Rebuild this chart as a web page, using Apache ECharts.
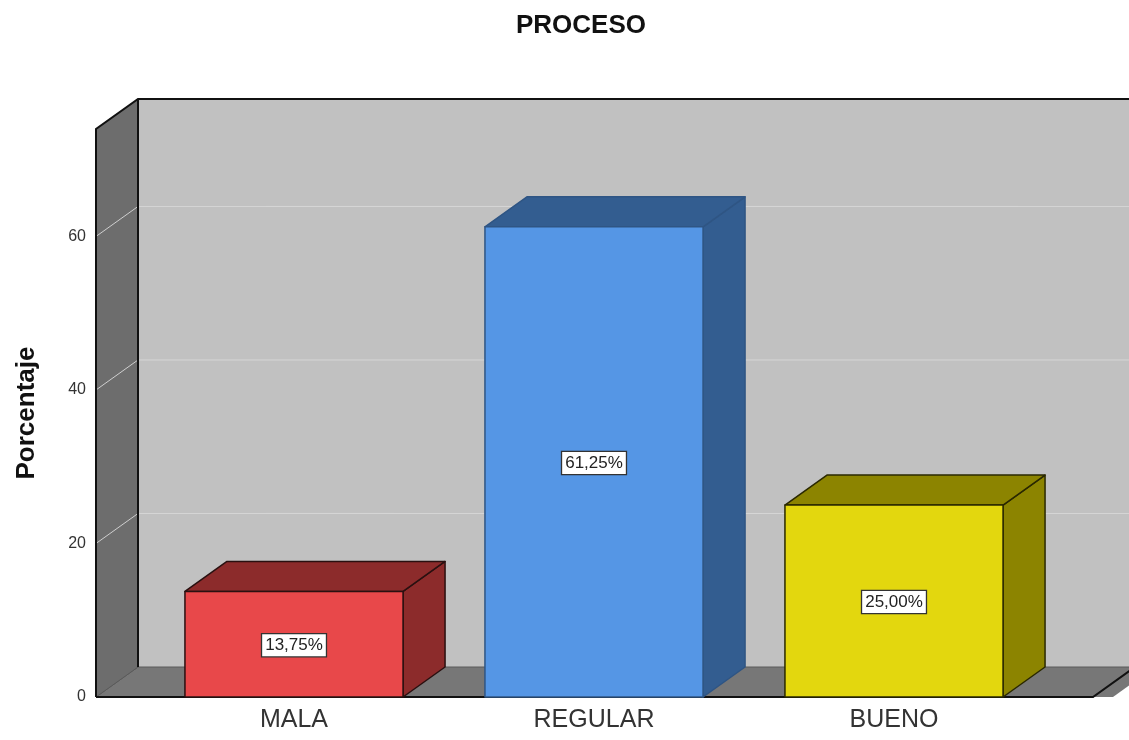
<!DOCTYPE html>
<html>
<head>
<meta charset="utf-8">
<script src="https://cdn.jsdelivr.net/npm/echarts@6/dist/echarts.min.js"></script>
<style>
html,body{margin:0;padding:0;background:#fff;}
#chart{width:1129px;height:740px;}
</style>
</head>
<body>
<div id="chart"></div>
<script>
const categories = ['MALA', 'REGULAR', 'BUENO'];
const values = [13.75, 61.25, 25.00];
const valueLabels = ['13,75%', '61,25%', '25,00%'];
const yTicks = [0, 20, 40, 60];
const frontColors = ['#e8484a', '#5596e5', '#e3d70e'];
const darkColors = ['#8c2b2b', '#335d90', '#8c8400'];
const edgeColors = ['#2a1010', '#2f5584', '#2a2800'];

const DX = 42, DY = -30;
const FONT = 'Arial, "Liberation Sans", sans-serif';

const chart = echarts.init(document.getElementById('chart'));

function renderWalls(params, api) {
  const cs = params.coordSys;
  const L = cs.x - 48;
  const R = cs.x + cs.width + 49;
  const y0 = api.coord([0, 0])[1];
  const yT = cs.y;
  const children = [];
  // back wall
  children.push({type: 'rect', shape: {x: L + DX, y: yT + DY, width: R - L + 20, height: y0 - yT},
    style: {fill: '#c1c1c1', stroke: null}});
  // floor
  children.push({type: 'polygon', shape: {points: [[L, y0], [L + DX, y0 + DY], [R + DX + 20, y0 + DY], [R + 20, y0]]},
    style: {fill: '#777777', stroke: null}});
  children.push({type: 'polygon', shape: {points: [[L, y0], [L + DX, y0 + DY], [R + DX, y0 + DY], [R, y0]]},
    style: {fill: '#777777', stroke: '#5a5a5a', lineWidth: 1}});
  // grid lines
  yTicks.forEach(function (v) {
    if (v === 0) return;
    const y = api.coord([0, v])[1];
    children.push({type: 'polyline', shape: {points: [[L, y], [L + DX, y + DY], [R + DX + 30, y + DY]]},
      style: {stroke: '#d6d6d6', lineWidth: 1, fill: null}});
  });
  // left wall
  children.push({type: 'polygon', shape: {points: [[L, yT], [L + DX, yT + DY], [L + DX, y0 + DY], [L, y0]]},
    style: {fill: '#6d6d6d', stroke: null}});
  yTicks.forEach(function (v) {
    if (v === 0) return;
    const y = api.coord([0, v])[1];
    children.push({type: 'line', shape: {x1: L, y1: y, x2: L + DX, y2: y + DY},
      style: {stroke: '#cfcfcf', lineWidth: 1}});
  });
  children.push({type: 'line', shape: {x1: L, y1: y0, x2: L + DX, y2: y0 + DY},
    style: {stroke: '#5a5a5a', lineWidth: 1}});
  // outlines
  children.push({type: 'polyline', shape: {points: [[L, y0], [L, yT], [L + DX, yT + DY], [R + DX + 40, yT + DY]]},
    style: {stroke: '#111', lineWidth: 2, fill: null}});
  children.push({type: 'line', shape: {x1: L + DX, y1: yT + DY, x2: L + DX, y2: y0 + DY},
    style: {stroke: '#111', lineWidth: 2}});
  children.push({type: 'polyline', shape: {points: [[L, y0], [R, y0], [R + DX, y0 + DY]]},
    style: {stroke: '#111', lineWidth: 2, fill: null}});
  return {type: 'group', children: children};
}

function renderBar(params, api) {
  const idx = api.value(0);
  const val = api.value(1);
  const top = api.coord([idx, val]);
  const bot = api.coord([idx, 0]);
  const w = api.size([1, 0])[0] * 0.727;
  const x0 = top[0] - w / 2, x1 = top[0] + w / 2;
  const yT = top[1], yB = bot[1];
  const i = params.dataIndex;
  const st = {stroke: edgeColors[i], lineWidth: 1.5, lineJoin: 'round'};
  return {type: 'group', children: [
    {type: 'polygon', shape: {points: [[x1, yT], [x1 + DX, yT + DY], [x1 + DX, yB + DY], [x1, yB]]},
      style: Object.assign({fill: darkColors[i]}, st)},
    {type: 'polygon', shape: {points: [[x0, yT], [x0 + DX, yT + DY], [x1 + DX, yT + DY], [x1, yT]]},
      style: Object.assign({fill: darkColors[i]}, st)},
    {type: 'rect', shape: {x: x0, y: yT, width: w, height: yB - yT},
      style: Object.assign({fill: frontColors[i]}, st)},
    {type: 'text', x: top[0], y: (yT + yB) / 2 + 1,
      style: {text: valueLabels[i], fill: '#222', font: '17px ' + FONT, align: 'center', verticalAlign: 'middle',
        backgroundColor: '#fff', borderColor: '#333', borderWidth: 1.3, padding: [3, 3, 2, 3]}}
  ]};
}

chart.setOption({
  animation: false,
  backgroundColor: '#fff',
  title: {text: 'PROCESO', left: 576, top: 8, textAlign: 'center',
    textStyle: {fontFamily: FONT, fontWeight: 'bold', fontSize: 26, color: '#111'}},
  grid: {left: 144, width: 900, top: 129, bottom: 43},
  xAxis: {type: 'category', data: categories,
    axisLine: {show: false}, axisTick: {show: false}, splitLine: {show: false},
    axisLabel: {fontFamily: FONT, fontSize: 25, color: '#333', margin: 11}},
  yAxis: {type: 'value', min: 0, max: 74, interval: 20, offset: 48,
    axisLine: {show: false}, axisTick: {show: false}, splitLine: {show: false},
    axisLabel: {fontFamily: FONT, fontSize: 16, color: '#333', margin: 10, showMaxLabel: false},
    name: 'Porcentaje', nameLocation: 'middle', nameRotate: 90, nameGap: 56,
    nameTextStyle: {fontFamily: FONT, fontWeight: 'bold', fontSize: 26, color: '#111'}},
  series: [
    {type: 'custom', renderItem: renderWalls, data: [[0, 0]], z: 1, silent: true, clip: false},
    {type: 'custom', renderItem: renderBar, data: values.map(function (v, i) { return [i, v]; }), z: 2, clip: false}
  ]
});
</script>
</body>
</html>
